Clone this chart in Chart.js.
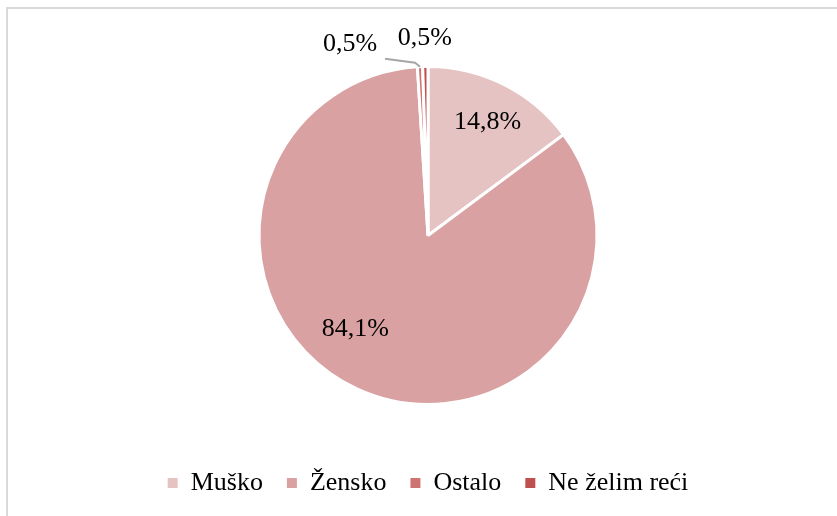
<!DOCTYPE html>
<html>
<head>
<meta charset="utf-8">
<script src="https://cdn.jsdelivr.net/npm/chart.js@4/dist/chart.umd.min.js"></script>
<style>
  body { margin: 0; background: #fff; }
  #wrap { position: relative; width: 837px; height: 516px; }
  #okvir { position: absolute; left: 6px; top: 7px; right: 0; bottom: 0; border-top: 2px solid #d9d9d9; border-left: 2px solid #d9d9d9; }
  canvas { position: absolute; left: 0; top: 0; }
</style>
</head>
<body>
<div id="wrap">
  <div id="okvir"></div>
  <canvas id="pita" width="837" height="516"></canvas>
</div>
<script>
// Spol ispitanika
const kategorije = ['Muško', 'Žensko', 'Ostalo', 'Ne želim reći'];
const postoci = [14.8, 84.1, 0.5, 0.5];
const boje = ['#e6c3c3', '#d9a1a1', '#cd7472', '#c0504d'];

// pomak oznaka: r = udio polumjera, a = zakret u stupnjevima
const oznake = [
  { r: 0.76, a: 1 },
  { r: 0.70, a: 13 },
  { r: 1.22, a: -19.5, linija: true },
  { r: 1.17, a: 0 }
];

const font = 'Liberation Serif, Times New Roman, serif';

const oznakePlugin = {
  id: 'oznake',
  afterDatasetsDraw(chart) {
    const ctx = chart.ctx;
    const meta = chart.getDatasetMeta(0);
    ctx.save();
    ctx.font = '26px ' + font;
    ctx.fillStyle = '#000';
    ctx.textAlign = 'center';
    ctx.textBaseline = 'middle';
    meta.data.forEach((arc, i) => {
      const o = oznake[i];
      const sredina = (arc.startAngle + arc.endAngle) / 2;
      const kut = sredina + o.a * Math.PI / 180;
      const x = arc.x + Math.cos(kut) * arc.outerRadius * o.r;
      const y = arc.y + Math.sin(kut) * arc.outerRadius * o.r;
      if (o.linija) {
        const px = arc.x + Math.cos(sredina) * arc.outerRadius;
        const py = arc.y + Math.sin(sredina) * arc.outerRadius;
        ctx.strokeStyle = '#a6a6a6';
        ctx.lineWidth = 2;
        ctx.beginPath();
        ctx.moveTo(px, py);
        ctx.lineTo(px - 5, py - 4);
        ctx.lineTo(px - 35, py - 8);
        ctx.stroke();
      }
      ctx.fillText(postoci[i].toFixed(1).replace('.', ',') + '%', x, y);
    });
    ctx.restore();
  }
};

new Chart(document.getElementById('pita').getContext('2d'), {
  type: 'pie',
  data: {
    labels: kategorije,
    datasets: [{
      data: postoci,
      backgroundColor: boje,
      borderColor: '#fff',
      borderWidth: 3
    }]
  },
  options: {
    responsive: false,
    animation: false,
    layout: { padding: { top: 65, left: 19, right: 0, bottom: 10 } },
    plugins: {
      // prazan naslov samo kao razmak izmedu pite i legende
      title: {
        display: true,
        text: ' ',
        position: 'bottom',
        weight: 500,
        font: { size: 10 },
        padding: { top: 13, bottom: 15 }
      },
      legend: {
        position: 'bottom',
        labels: {
          font: { family: font, size: 26 },
          color: '#000',
          boxWidth: 10,
          boxHeight: 10,
          padding: 24,
          generateLabels(chart) {
            const items = Chart.overrides.pie.plugins.legend.labels.generateLabels(chart);
            items.forEach(it => { it.lineWidth = 0; it.strokeStyle = it.fillStyle; });
            return items;
          }
        }
      },
      tooltip: { enabled: false }
    }
  },
  plugins: [oznakePlugin]
});
</script>
</body>
</html>
